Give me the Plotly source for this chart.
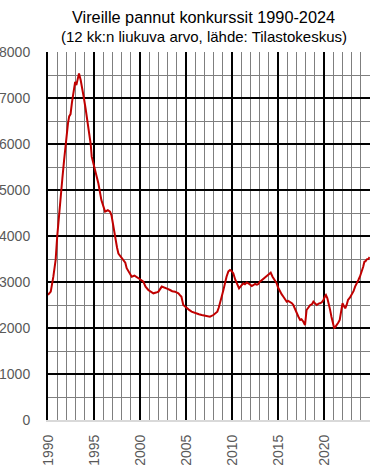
import plotly.graph_objects as go

years = [
    1990.0, 1990.3, 1990.58, 1990.83, 1991.0, 1991.2, 1991.38, 1991.56, 1991.75, 1991.92,
    1992.17, 1992.3, 1992.45, 1992.6, 1992.75, 1992.95, 1993.08, 1993.25, 1993.37, 1993.55,
    1993.7, 1993.9, 1994.1, 1994.27, 1994.45, 1994.64, 1994.75, 1995.1, 1995.47, 1995.8,
    1996.0, 1996.2, 1996.5, 1996.74, 1996.9, 1997.1, 1997.3, 1997.5, 1997.65, 1997.9,
    1998.2, 1998.4, 1998.55, 1998.8, 1999.1, 1999.4, 1999.64, 2000.0, 2000.36, 2000.6,
    2000.9, 2001.2, 2001.45, 2001.75, 2002.0, 2002.36, 2002.7, 2003.0, 2003.26, 2003.5,
    2003.8, 2004.17, 2004.4, 2004.5, 2004.7, 2005.07, 2005.3, 2005.6, 2005.9, 2006.16,
    2006.4, 2006.7, 2007.0, 2007.25, 2007.6, 2007.97, 2008.2, 2008.4, 2008.55, 2008.7,
    2008.9, 2009.06, 2009.25, 2009.4, 2009.6, 2009.78, 2009.95, 2010.14, 2010.35, 2010.5,
    2010.76, 2011.0, 2011.23, 2011.4, 2011.6, 2011.85, 2012.14, 2012.3, 2012.5, 2012.7,
    2012.86, 2013.0, 2013.2, 2013.5, 2013.77, 2014.0, 2014.2, 2014.4, 2014.6, 2014.85,
    2015.0, 2015.2, 2015.4, 2015.58, 2015.75, 2015.94, 2016.1, 2016.3, 2016.5, 2016.66,
    2016.85, 2017.03, 2017.2, 2017.4, 2017.55, 2017.75, 2017.93, 2018.1, 2018.3, 2018.5,
    2018.7, 2018.84, 2019.0, 2019.2, 2019.4, 2019.57, 2019.75, 2019.93, 2020.1, 2020.2,
    2020.35, 2020.47, 2020.65, 2020.8, 2020.95, 2021.1, 2021.25, 2021.4, 2021.55, 2021.7,
    2021.85, 2022.0, 2022.15, 2022.3, 2022.45, 2022.6, 2022.8, 2023.0, 2023.2, 2023.37,
    2023.55, 2023.73, 2023.9, 2024.1, 2024.25, 2024.38, 2024.5, 2024.64, 2024.8, 2024.95,
]

values = [
    2720, 2790, 3115, 3480, 3985, 4500, 4855, 5250, 5650, 6015,
    6450, 6600, 6650, 6900, 7100, 7350, 7280, 7450, 7535, 7390,
    7250, 7000, 6750, 6520, 6200, 6000, 5725, 5435, 5145, 4780,
    4650, 4530, 4560, 4530, 4450, 4200, 3985, 3750, 3620, 3560,
    3478, 3420, 3300, 3200, 3115, 3140, 3100, 3060, 3007, 2900,
    2826, 2780, 2754, 2770, 2790, 2900, 2880, 2850, 2826, 2800,
    2790, 2754, 2700, 2680, 2500, 2427, 2400, 2355, 2330, 2318,
    2300, 2282, 2270, 2260, 2246, 2282, 2330, 2355, 2440, 2536,
    2700, 2826, 3000, 3115, 3230, 3260, 3240, 3188, 3050, 2971,
    2862, 2920, 2971, 2950, 2990, 2960, 2913, 2930, 2957, 2940,
    2957, 3000, 3029, 3080, 3130, 3170, 3203, 3115, 3050, 2971,
    2880, 2790, 2730, 2680, 2620, 2572, 2590, 2572, 2540, 2500,
    2400, 2318, 2250, 2174, 2190, 2137, 2065, 2391, 2450, 2500,
    2520, 2572, 2540, 2500, 2530, 2536, 2560, 2609, 2690, 2717,
    2650, 2572, 2400, 2246, 2100, 1993, 2030, 2065, 2120, 2174,
    2350, 2536, 2480, 2427, 2500, 2609, 2660, 2717, 2800, 2900,
    2960, 3043, 3120, 3224, 3330, 3442, 3450, 3493, 3500, 3540,
]

title_text = "Vireille pannut konkurssit 1990-2024"
subtitle_text = "(12 kk:n liukuva arvo, lähde: Tilastokeskus)"

FONT = "Liberation Sans, Arial, sans-serif"

fig = go.Figure()
fig.add_trace(go.Scatter(
    x=years, y=values, mode="lines",
    line=dict(color="#C00000", width=2),
    hoverinfo="skip", showlegend=False,
))

fig.update_layout(
    width=370, height=470,
    margin=dict(l=48, r=0, t=52, b=50),
    paper_bgcolor="white", plot_bgcolor="white",
    font=dict(family=FONT, color="#595959", size=14),
    showlegend=False,
    annotations=[
        dict(text=title_text, xref="paper", yref="paper", x=0.484, y=1.095,
             xanchor="center", yanchor="middle", showarrow=False,
             font=dict(family=FONT, size=16.3, color="black")),
        dict(text=subtitle_text, xref="paper", yref="paper", x=0.484, y=1.041,
             xanchor="center", yanchor="middle", showarrow=False,
             font=dict(family=FONT, size=15, color="black")),
    ],
)

fig.update_xaxes(
    range=[1990, 2024.99],
    tickmode="linear", tick0=1990, dtick=5,
    tickangle=-90,
    tickfont=dict(family=FONT, size=14, color="#595959"),
    ticklabelstandoff=7,
    showgrid=True, gridcolor="black", gridwidth=2,
    minor=dict(tick0=1990, dtick=1, showgrid=True, gridcolor="#7F7F7F", gridwidth=1),
    showline=True, linecolor="#D9D9D9", linewidth=2,
    zeroline=False, ticks="",
)

fig.update_yaxes(
    range=[0, 8000],
    tickmode="linear", tick0=0, dtick=1000,
    tickfont=dict(family=FONT, size=14, color="#595959"),
    ticklabelstandoff=13,
    showgrid=True, gridcolor="black", gridwidth=2,
    minor=dict(tick0=0, dtick=500, showgrid=True, gridcolor="#7F7F7F", gridwidth=1),
    zeroline=True, zerolinecolor="#D9D9D9", zerolinewidth=2,
    showline=True, linecolor="black", linewidth=2,
    ticks="",
)

fig.write_html("out.html")
